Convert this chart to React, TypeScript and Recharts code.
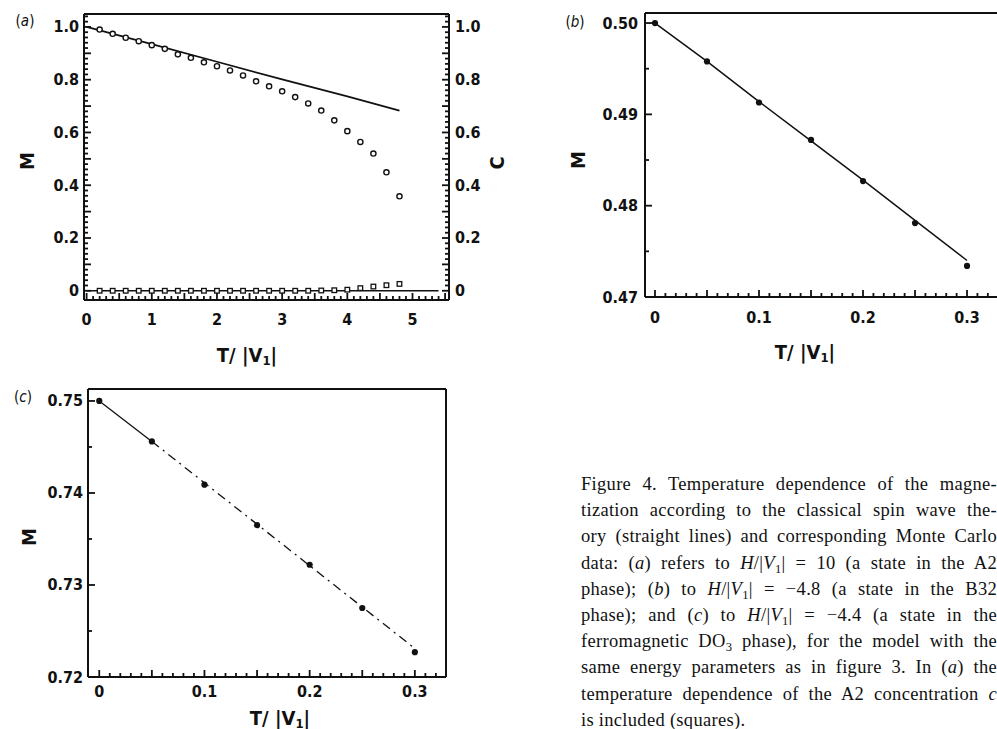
import React from 'react';
import {ComposedChart, Line, Scatter, XAxis, YAxis, ReferenceLine} from 'recharts';

// ---------------------------------------------------------------
// Panel (a): A2 state, H/|V1| = 10. Circles = M (Monte Carlo),
// squares = A2 concentration C, solid line = spin wave M.
// ---------------------------------------------------------------
const tA = [0.2, 0.4, 0.6, 0.8, 1.0, 1.2, 1.4, 1.6, 1.8, 2.0, 2.2, 2.4, 2.6, 2.8, 3.0, 3.2, 3.4, 3.6, 3.8, 4.0, 4.2, 4.4, 4.6, 4.8];
const mA = [0.99, 0.974, 0.959, 0.946, 0.931, 0.917, 0.896, 0.883, 0.866, 0.851, 0.835, 0.816, 0.794, 0.775, 0.756, 0.734, 0.71, 0.683, 0.646, 0.605, 0.564, 0.52, 0.449, 0.358];
const cA = [0, 0, 0, 0, 0, 0, 0, 0, 0, 0, 0, 0, 0, 0, 0, 0, 0, 0.001, 0.002, 0.004, 0.01, 0.016, 0.021, 0.026];
const waveTA = [0, 1, 2, 3, 4, 4.8];
const waveMA = [1.0, 0.935, 0.868, 0.801, 0.737, 0.683];
const waveTC = [0, 5.4];
const waveCA = [0, 0];
const xLabelsA = [0, 1, 2, 3, 4, 5];
const yLabelsA = [0, 0.2, 0.4, 0.6, 0.8, 1.0];

// Panel (b): B32 state, H/|V1| = -4.8
const tB = [0, 0.05, 0.1, 0.15, 0.2, 0.25, 0.3];
const mB = [0.5, 0.4958, 0.4913, 0.4872, 0.4827, 0.4781, 0.4734];
const waveMB = [0.5, 0.4958, 0.4914, 0.4871, 0.4828, 0.4784, 0.474];
const xLabelsB = [0, 0.1, 0.2, 0.3];
const yLabelsB = [0.47, 0.48, 0.49, 0.5];

// Panel (c): ferromagnetic DO3 state, H/|V1| = -4.4
const tC = [0, 0.05, 0.1, 0.15, 0.2, 0.25, 0.3];
const mC = [0.75, 0.7456, 0.7409, 0.7365, 0.7322, 0.7275, 0.7227];
const waveMC = [0.75, 0.7456, 0.7411, 0.7366, 0.7321, 0.7276, 0.7231];
const yLabelsC = [0.72, 0.73, 0.74, 0.75];

const circlesA = tA.map((t, i) => ({t, m: mA[i]}));
const squaresA = tA.map((t, i) => ({t, c: cA[i]}));
const waveA = waveTA.map((t, i) => ({t, m: waveMA[i]}));
const waveC0 = waveTC.map((t, i) => ({t, c: waveCA[i]}));
const pointsB = tB.map((t, i) => ({t, m: mB[i]}));
const waveB = tB.map((t, i) => ({t, m: waveMB[i]}));
const pointsC = tC.map((t, i) => ({t, m: mC[i]}));
const waveCsolid = tC.slice(0, 2).map((t, i) => ({t, m: waveMC[i]}));
const waveCdash = tC.slice(1).map((t, i) => ({t, m: waveMC[i + 1]}));

const INK = '#111';
const FONT = "'DejaVu Sans Condensed', 'DejaVu Sans', sans-serif";

const steps = (a: number, b: number, step: number) => {
  const out: number[] = [];
  for (let k = 0; a + k * step <= b + step / 2; k++) out.push(+(a + k * step).toFixed(6));
  return out;
};
const near = (arr: number[], v: number) => arr.some((m) => Math.abs(m - v) < 1e-6);

type Side = 'left' | 'right' | 'bottom';

// inward ticks, long on majors, with labels only where wanted
function axisTick(side: Side, labels: number[], majors: number[], fmt: (v: number) => string, gap: number, bigLen = 7, smallLen = 4) {
  return (props: any) => {
    const x = Number(props.x);
    const y = Number(props.y);
    const v = Number(props.payload.value);
    const len = near(majors, v) ? bigLen : smallLen;
    const show = near(labels, v);
    const txt = {fontFamily: FONT, fontSize: 16, fontWeight: 700, fill: INK, fontStretch: 'condensed'} as any;
    let d = `M${x},${y}L${x},${y - len}`;
    if (side === 'left') d = `M${x},${y}L${x + len},${y}`;
    if (side === 'right') d = `M${x},${y}L${x - len},${y}`;
    let label = null;
    if (show) {
      if (side === 'left')
        label = <text x={x - gap} y={y} textAnchor="end" dominantBaseline="central" style={txt}>{fmt(v)}</text>;
      else if (side === 'right')
        label = <text x={x + gap} y={y} textAnchor="start" dominantBaseline="central" style={txt}>{fmt(v)}</text>;
      else label = <text x={x} y={y + gap} textAnchor="middle" dominantBaseline="central" style={txt}>{fmt(v)}</text>;
    }
    return (
      <g>
        <path d={d} fill="none" stroke={INK} strokeWidth={1.8} />
        {label}
      </g>
    );
  };
}

const fmt0 = (v: number) => String(Math.round(v));
const fmt1 = (v: number) => (v === 0 ? '0' : v.toFixed(1));
const fmt2 = (v: number) => v.toFixed(2);

const openCircle = (p: any) => <circle cx={p.cx} cy={p.cy} r={2.6} fill="#fff" stroke={INK} strokeWidth={1.4} />;
const openSquare = (p: any) => <rect x={p.cx - 2.3} y={p.cy - 2.3} width={4.6} height={4.6} fill="#fff" stroke={INK} strokeWidth={1.3} />;
const dot = (p: any) => <circle cx={p.cx} cy={p.cy} r={3.1} fill={INK} />;

const axisLine = {stroke: INK, strokeWidth: 2};
const common = {tickSize: 0, tickMargin: 0, interval: 0 as const, tickLine: false, axisLine, allowDataOverflow: true, type: 'number' as const};

const yDomA: [number, number] = [-0.035, 1.049];
const xDomA: [number, number] = [-0.04, 5.56];
const yDomB: [number, number] = [0.47, 0.5011];
const xDomB: [number, number] = [-0.0096, 0.3317];
const yDomC: [number, number] = [0.72, 0.7513];
const xDomC: [number, number] = [-0.0107, 0.3296];

function PanelA() {
  const yTicks = steps(0, 1.04, 0.02);
  const xTicks = steps(0, 5.5, 0.1);
  return (
    <ComposedChart width={540} height={380} margin={{top: 14, right: 31, bottom: 50, left: 24}}>
      <XAxis dataKey="t" domain={xDomA} ticks={xTicks} height={30} tick={axisTick('bottom', xLabelsA, steps(0, 5.5, 0.5), fmt0, 19)} {...common} />
      <YAxis yAxisId="left" domain={yDomA} ticks={yTicks} width={60} tick={axisTick('left', yLabelsA, steps(0, 1, 0.1), fmt1, 5)} {...common} />
      <YAxis yAxisId="right" orientation="right" domain={yDomA} ticks={yTicks} width={60} tick={axisTick('right', yLabelsA, steps(0, 1, 0.1), fmt1, 6)} {...common} />
      <ReferenceLine yAxisId="left" y={yDomA[1]} stroke={INK} strokeWidth={2} />
      <Line yAxisId="right" data={waveC0} dataKey="c" stroke={INK} strokeWidth={1.3} dot={false} isAnimationActive={false} />
      <Line yAxisId="left" data={waveA} dataKey="m" stroke={INK} strokeWidth={1.7} dot={false} isAnimationActive={false} />
      <Scatter yAxisId="left" data={circlesA} dataKey="m" shape={openCircle} isAnimationActive={false} />
      <Scatter yAxisId="right" data={squaresA} dataKey="c" shape={openSquare} isAnimationActive={false} />
    </ComposedChart>
  );
}

function PanelB() {
  return (
    <ComposedChart width={470} height={380} margin={{top: 13, right: 10, bottom: 53, left: 45}}>
      <XAxis dataKey="t" domain={xDomB} ticks={steps(0, 0.33, 0.01)} height={30} tick={axisTick('bottom', xLabelsB, steps(0, 0.3, 0.05), fmt1, 20)} {...common} />
      <YAxis domain={yDomB} ticks={steps(0.47, 0.5, 0.005)} width={60} tick={axisTick('left', yLabelsB, yLabelsB, fmt2, 7)} {...common} />
      <ReferenceLine y={yDomB[1]} stroke={INK} strokeWidth={2} />
      <Line data={waveB} dataKey="m" stroke={INK} strokeWidth={1.5} dot={false} isAnimationActive={false} />
      <Scatter data={pointsB} dataKey="m" shape={dot} isAnimationActive={false} />
    </ComposedChart>
  );
}

function PanelC() {
  return (
    <ComposedChart width={470} height={369} margin={{top: 29, right: 24, bottom: 22, left: 28}}>
      <XAxis dataKey="t" domain={xDomC} ticks={steps(0, 0.32, 0.01)} height={30} tick={axisTick('bottom', xLabelsB, steps(0, 0.3, 0.05), fmt1, 14)} {...common} />
      <YAxis domain={yDomC} ticks={steps(0.72, 0.75, 0.005)} width={60} tick={axisTick('left', yLabelsC, yLabelsC, fmt2, 5)} {...common} />
      <ReferenceLine y={yDomC[1]} stroke={INK} strokeWidth={2} />
      <ReferenceLine x={xDomC[1]} stroke={INK} strokeWidth={2} />
      <Line data={waveCsolid} dataKey="m" stroke={INK} strokeWidth={1.3} dot={false} isAnimationActive={false} />
      <Line data={waveCdash} dataKey="m" stroke={INK} strokeWidth={1.3} strokeDasharray="9 5 2 5" dot={false} isAnimationActive={false} />
      <Scatter data={pointsC} dataKey="m" shape={dot} isAnimationActive={false} />
    </ComposedChart>
  );
}

const title = {fontFamily: FONT, fontWeight: 700, fill: INK, fontStretch: 'condensed'} as any;

function TV({x, y}: {x: number; y: number}) {
  return (
    <text x={x} y={y} textAnchor="middle" dominantBaseline="central" style={{...title, fontSize: 20}}>
      T/ |V<tspan fontSize={13} dy={5}>1</tspan><tspan dy={-5}>|</tspan>
    </text>
  );
}

function Tag({x, y, letter}: {x: number; y: number; letter: string}) {
  return (
    <text x={x} y={y} textAnchor="middle" dominantBaseline="central" style={{...title, fontWeight: 400, fontSize: 15}}>
      (<tspan fontStyle="italic">{letter}</tspan>)
    </text>
  );
}

function Rot({x, y, s}: {x: number; y: number; s: string}) {
  return (
    <text x={x} y={y} textAnchor="middle" dominantBaseline="central" transform={`rotate(-90 ${x} ${y})`} style={{...title, fontSize: 20}}>
      {s}
    </text>
  );
}

const sub = (s: string) => <span style={{fontSize: '0.68em', verticalAlign: '-0.3em', lineHeight: 0}}>{s}</span>;
const HV = () => (
  <>
    <i>H</i>/|<i>V</i>{sub('1')}|
  </>
);

const captionLines: React.ReactNode[] = [
  <>Figure 4. Temperature dependence of the magne-</>,
  <>tization according to the classical spin wave the-</>,
  <>ory (straight lines) and corresponding Monte Carlo</>,
  <>data: (<i>a</i>) refers to <HV /> = 10 (a state in the A2</>,
  <>phase); (<i>b</i>) to <HV /> = −4.8 (a state in the B32</>,
  <>phase); and (<i>c</i>) to <HV /> = −4.4 (a state in the</>,
  <>ferromagnetic DO{sub('3')} phase), for the model with the</>,
  <>same energy parameters as in figure 3. In (<i>a</i>) the</>,
  <>temperature dependence of the A2 concentration <i>c</i></>,
  <>is included (squares).</>,
];

export default function App() {
  return (
    <div style={{position: 'fixed', left: 0, top: 0, width: 997, height: 729, overflow: 'hidden', background: '#fff'}}>
      <div style={{position: 'absolute', left: 0, top: 0}}>
        <PanelA />
      </div>
      <div style={{position: 'absolute', left: 540, top: 0}}>
        <PanelB />
      </div>
      <div style={{position: 'absolute', left: 0, top: 360}}>
        <PanelC />
      </div>
      <svg width={997} height={729} style={{position: 'absolute', left: 0, top: 0, pointerEvents: 'none'}}>
        <Tag x={25} y={21} letter="a" />
        <Rot x={27} y={161} s="M" />
        <Rot x={497} y={163} s="C" />
        <TV x={247} y={355} />
        <Tag x={575} y={22} letter="b" />
        <Rot x={578} y={160} s="M" />
        <TV x={805} y={352} />
        <Tag x={23} y={397} letter="c" />
        <Rot x={29} y={537} s="M" />
        <TV x={280} y={718} />
      </svg>
      <div
        style={{
          position: 'absolute',
          left: 581,
          top: 471,
          width: 416,
          fontFamily: "'Liberation Serif', 'Times New Roman', serif",
          fontSize: 18.5,
          letterSpacing: 0.3,
          lineHeight: '26.2px',
          color: INK,
        }}>
        {captionLines.map((ln, i) => (
          <div key={i} style={{height: 26.2, textAlign: 'justify', textAlignLast: i < captionLines.length - 1 ? 'justify' : 'left'}}>
            {ln}
          </div>
        ))}
      </div>
    </div>
  );
}
